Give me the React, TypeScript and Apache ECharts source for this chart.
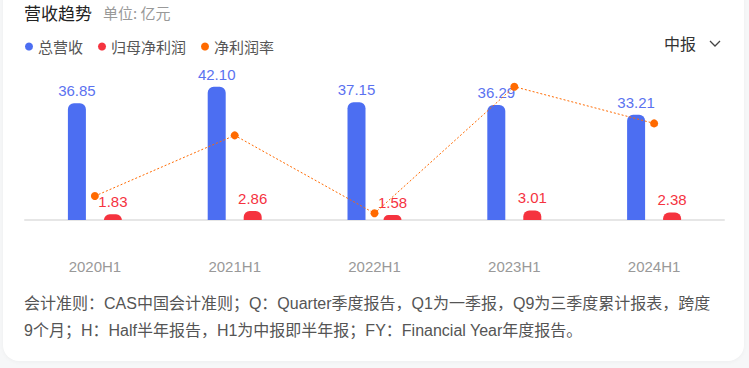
import React, { useEffect, useRef } from "react";
import * as echarts from "echarts";

const categories = ["2020H1", "2021H1", "2022H1", "2023H1", "2024H1"];
const revenue = [36.85, 42.1, 37.15, 36.29, 33.21];
const netProfit = [1.83, 2.86, 1.58, 3.01, 2.38];
const netMargin = [1.5, 5.3, 0.42, 8.35, 6.05];

const FONT = 'Arial, "Liberation Sans", "Noto Sans CJK SC", sans-serif';
const CJK = '"Noto Sans CJK SC", "Liberation Sans", sans-serif';

const footLine1 =
  "会计准则：CAS中国会计准则；Q：Quarter季度报告，Q1为一季报，Q9为三季度累计报表，跨度";
const footLine2 = "9个月；H：Half半年报告，H1为中报即半年报；FY：Financial Year年度报告。";

export default function App() {
  const ref = useRef<HTMLDivElement>(null);
  useEffect(() => {
    const chart = echarts.init(ref.current!, null, { renderer: "svg" });
    chart.setOption({
      animation: false,
      textStyle: { fontFamily: FONT },
      legend: {
        left: 20,
        top: 34,
        icon: "circle",
        itemWidth: 8,
        itemHeight: 8,
        itemGap: 15,
        textStyle: { color: "#555", fontSize: 15, fontFamily: CJK },
        data: ["总营收", "归母净利润", "净利润率"],
      },
      grid: { left: 25, right: 25, top: 80, bottom: 148 },
      xAxis: {
        type: "category",
        data: categories,
        axisLine: { lineStyle: { color: "#e6e6e6", width: 2 } },
        axisTick: { show: false },
        axisLabel: { color: "#999", fontSize: 15, margin: 39 },
      },
      yAxis: [
        {
          type: "value",
          min: 0,
          max: (v: any) => v.max * 1.05,
          show: false,
          splitLine: { show: false },
        },
        {
          type: "value",
          min: 0,
          max: (v: any) => v.max * 1.05,
          show: false,
          splitLine: { show: false },
        },
      ],
      series: [
        {
          name: "总营收",
          type: "bar",
          data: revenue,
          barWidth: 18,
          barGap: "100%",
          itemStyle: { color: "#4c6ef2", borderRadius: [6, 6, 0, 0] },
          label: {
            show: true,
            position: "top",
            distance: 5,
            color: "#5b72f0",
            fontSize: 15,
            formatter: (p: any) => p.value.toFixed(2),
          },
        },
        {
          name: "归母净利润",
          type: "bar",
          data: netProfit,
          barWidth: 18,
          itemStyle: { color: "#f5333f", borderRadius: [6, 6, 0, 0] },
          label: {
            show: true,
            position: "top",
            distance: 5,
            color: "#f5333f",
            fontSize: 15,
            formatter: (p: any) => p.value.toFixed(2),
          },
        },
        {
          name: "净利润率",
          type: "line",
          yAxisIndex: 1,
          data: netMargin,
          symbol: "circle",
          symbolSize: 8,
          itemStyle: { color: "#ff6a00" },
          lineStyle: { color: "#ff6a00", width: 1, type: [2, 2] },
          z: 5,
        },
      ],
      graphic: [
        {
          type: "text",
          left: 24,
          top: 4,
          style: { text: "营收趋势", fill: "#222", fontSize: 17, fontFamily: CJK },
        },
        {
          type: "text",
          left: 103,
          top: 5,
          style: { text: "单位: 亿元", fill: "#999", fontSize: 15, fontFamily: CJK },
        },
        {
          type: "text",
          left: 664,
          top: 35,
          style: { text: "中报", fill: "#333", fontSize: 16, fontFamily: CJK },
        },
        {
          type: "polyline",
          shape: { points: [[710, 41], [715, 46], [720, 41]] },
          style: { stroke: "#444", lineWidth: 1.3, fill: null },
        },
        {
          type: "text",
          left: 24,
          top: 295,
          style: { text: footLine1, fill: "#555", fontSize: 16, fontFamily: FONT },
        },
        {
          type: "text",
          left: 24,
          top: 322,
          style: { text: footLine2, fill: "#555", fontSize: 16, fontFamily: FONT },
        },
      ],
    });
    return () => chart.dispose();
  }, []);

  return (
    <div
      style={{
        position: "fixed",
        left: 0,
        top: 0,
        width: 749,
        height: 368,
        background: "#f6f7f8",
        overflow: "hidden",
      }}
    >
      <div
        style={{
          position: "absolute",
          left: 3,
          top: -20,
          width: 741,
          height: 381,
          background: "#fff",
          borderRadius: 16,
          boxShadow: "0 1px 4px rgba(0,0,0,0.04)",
        }}
      />
      <div
        ref={ref}
        style={{ position: "absolute", left: 0, top: 0, width: 749, height: 368 }}
      />
    </div>
  );
}
